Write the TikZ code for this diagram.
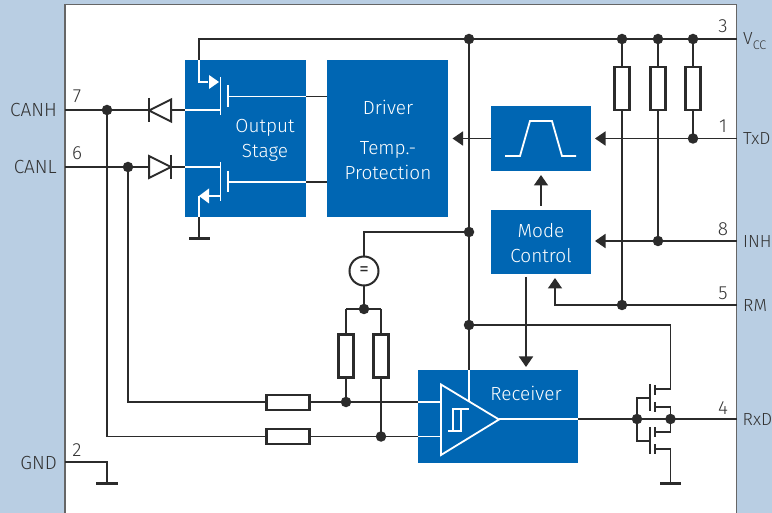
\documentclass[tikz,border=0pt]{standalone}
\usepackage{fontspec}
\setmainfont{Fira Sans Light}[BoldFont={Fira Sans}]
\usetikzlibrary{arrows.meta}
\definecolor{bgblue}{HTML}{B9CEE3}
\definecolor{blockblue}{HTML}{0066B3}
\definecolor{ink}{HTML}{2B2B2B}
\definecolor{txt}{HTML}{333333}
\tikzset{
  x=1pt,y=-1pt,
  block/.style={fill=blockblue,draw=none,inner sep=0,outer sep=0},
  wire/.style={draw=ink,line width=1.7pt},
  wwire/.style={draw=white,line width=1.6pt},
  thick wire/.style={draw=ink,line width=2.2pt},
  res/.style={draw=ink,line width=2.1pt,fill=white,inner sep=0,outer sep=0},
  dot/.style={circle,fill=ink,draw=none,minimum size=10.5pt,inner sep=0,outer sep=0},
  pin/.style={font=\fontsize{19}{19}\selectfont,text=txt,inner sep=0,anchor=base},
  sig/.style={font=\fontsize{19}{19}\selectfont,text=txt,inner sep=0},
  sigr/.style={font=\fontsize{17.5}{17.5}\selectfont,text=txt,inner sep=0,anchor=base west},
  blocktxt/.style={font=\fontsize{19}{19}\selectfont,text=white,inner sep=0,anchor=base},
  arr/.style={wire,-{Triangle[length=10.5pt,width=14pt,fill=ink]}},
}
\begin{document}
\begin{tikzpicture}
\useasboundingbox (0,0) rectangle (772,513);
\clip (0,0) rectangle (772,513);
\fill[bgblue] (0,0) rectangle (772,513);
\fill[white] (65,4.5) rectangle (736.5,513);
\draw[draw=gray!80!black,line width=1.3pt] (65,513) -- (65,4.5) -- (736.5,4.5) -- (736.5,513);

% blocks
\node[block,minimum width=121pt,minimum height=157pt] (output) at (245.5,138.5) {};
\node[block,minimum width=121pt,minimum height=157pt] (driver) at (387.5,138.5) {};
\node[block,minimum width=100pt,minimum height=65pt] (slope) at (541,138.5) {};
\node[block,minimum width=100pt,minimum height=64pt] (mode) at (541,242) {};
\node[block,minimum width=160pt,minimum height=93pt] (receiver) at (498,416.5) {};

% junction points
\coordinate (vccL) at (199,39);
\coordinate (vccR) at (736.5,39);
\coordinate (txdR) at (736.5,138.5);
\coordinate (inhR) at (736.5,241);
\coordinate (rmR) at (736.5,305);
\coordinate (rxdR) at (736.5,419);
\coordinate (hL) at (65,110);
\coordinate (lL) at (65,167);
\coordinate (gL) at (65,462);
\coordinate (upS) at (541,206);
\coordinate (dnS) at (526,277);
\node[dot] (jv0) at (469,39) {};
\node[dot] (jv1) at (622,39) {};
\node[dot] (jv2) at (658,39) {};
\node[dot] (jv3) at (693,39) {};
\node[dot] (jtx) at (693,138.5) {};
\node[dot] (jinh) at (658,241) {};
\node[dot] (jrm) at (622,305) {};
\node[dot] (jbus) at (469,232) {};
\node[dot] (jrec) at (469,325) {};
\node[dot] (jh) at (107,110) {};
\node[dot] (jl) at (128,167) {};
\node[dot] (jtop) at (364,309) {};
\node[dot] (j402) at (346,402) {};
\node[dot] (j436) at (381,436.5) {};
\node[dot] (jg) at (637,419) {};
\node[dot] (jd) at (670.5,419) {};

% black wiring
\draw[wire] (199,60) -- (vccL) -- (vccR);
\draw[wire] (jv0.center) -- (469,370);
\draw[wire] (jv1.center) -- (jrm.center);
\draw[wire] (jv2.center) -- (jinh.center);
\draw[wire] (jv3.center) -- (jtx.center);
\draw[wire] (hL) -- (185,110);
\draw[wire] (lL) -- (185,167);
\draw[wire] (jh.center) -- (107,436.5) -- (418,436.5);
\draw[wire] (jl.center) -- (128,402) -- (418,402);
\draw[wire] (306,96.5) -- (327,96.5);
\draw[wire] (306,182) -- (327,182);
\draw[wire] (199,217) -- (199,238.5);
\draw[thick wire] (189,238.5) -- (210,238.5);
\draw[wire] (gL) -- (107,462) -- (107,483.5);
\draw[thick wire] (96,483.5) -- (117.5,483.5);
\draw[arr] (txdR) -- (595,138.5);
\draw[arr] (slope.west) -- (452.5,138.5);
\draw[arr] (inhR) -- (595,241);
\draw[arr] (rmR) -- (555,305) -- (555,278);
\draw[arr] (upS) -- (541,175);
\draw[arr] (dnS) -- (526,367);
\draw[wire] (jrec.center) -- (670.5,325) -- (670.5,389) -- (655,389);
\draw[wire] (578,419) -- (rxdR);

% equal sign reference and divider
\node[circle,draw=ink,line width=2pt,fill=white,minimum size=29pt,inner sep=0,outer sep=0,font=\bfseries\fontsize{19}{19}\selectfont,text=ink] (eq) at (364,271) {=};
\draw[wire] (eq.north) -- (364,232) -- (jbus.center);
\draw[wire] (eq.south) -- (jtop.center);
\draw[wire] (346,309) -- (381,309);
\draw[wire] (346,309) -- (j402.center);
\draw[wire] (381,309) -- (j436.center);

% resistors
\node[res,minimum width=15pt,minimum height=43pt] (r1) at (622,88.5) {};
\node[res,minimum width=15pt,minimum height=43pt] (r2) at (658,88.5) {};
\node[res,minimum width=15pt,minimum height=43pt] (r3) at (693,88.5) {};
\node[res,minimum width=15pt,minimum height=43pt] (r4) at (346,356) {};
\node[res,minimum width=15pt,minimum height=43pt] (r5) at (381,356) {};
\node[res,minimum width=43pt,minimum height=15pt] (r6) at (288,402.5) {};
\node[res,minimum width=43pt,minimum height=15pt] (r7) at (288,436.5) {};

% diodes
\draw[wire,line width=2pt,fill=white,line join=miter] (171,99.5) -- (171,121.5) -- (149,110.5) -- cycle;
\draw[thick wire] (149,98) -- (149,122);
\draw[wire,line width=2pt,fill=white,line join=miter] (149,156) -- (149,178) -- (171,167) -- cycle;
\draw[thick wire] (171,155) -- (171,179);

% output stage internals
\draw[wwire] (199,60) -- (199,82) -- (208,82);
\fill[white] (219,82) -- (209,75) -- (209,89) -- cycle;
\draw[wwire] (220.5,77) -- (220.5,115);
\draw[wwire] (228,85) -- (228,107);
\draw[wwire] (228,96.5) -- (306,96.5);
\draw[wwire] (185,110) -- (220.5,110);
\draw[wwire] (185,167) -- (220.5,167);
\draw[wwire] (220.5,162) -- (220.5,201);
\draw[wwire] (228,171) -- (228,192);
\draw[wwire] (228,182) -- (306,182);
\draw[wwire] (220.5,196) -- (208,196);
\fill[white] (199,196) -- (209,188.5) -- (209,203.5) -- cycle;
\draw[wwire] (199,196) -- (199,217);

% slope symbol
\draw[wwire,line width=1.8pt] (505,156) -- (520,156) -- (530,121) -- (552,121) -- (562,156) -- (576,156);

% receiver internals
\draw[wwire] (469,370) -- (469,402);
\draw[wwire] (418,402) -- (441,402);
\draw[wwire] (418,436.5) -- (441,436.5);
\draw[wwire,line width=1.8pt,line join=miter] (441,384.5) -- (441,455) -- (499,419.5) -- cycle;
\draw[wwire] (499,419) -- (578,419);
\draw[wwire,line width=1.8pt] (448,431) -- (461,431) -- (461,409) -- (469,409);
\draw[wwire,line width=1.8pt] (461,409) -- (453,409) -- (453,431);

% output pair
\draw[wire] (jg.center) -- (637,398) -- (650,398);
\draw[wire] (jg.center) -- (637,441) -- (650,441);
\draw[wire] (650,384) -- (650,411);
\draw[wire] (650,427) -- (650,454);
\draw[wire] (655,385) -- (655,395);
\draw[wire] (655,402) -- (655,412);
\draw[wire] (655,427) -- (655,437);
\draw[wire] (655,444) -- (655,454);
\draw[wire] (655,407) -- (670.5,407) -- (jd.center);
\draw[wire] (655,432) -- (670.5,432) -- (jd.center);
\draw[wire] (655,449) -- (670.5,449) -- (670.5,483.5);
\draw[thick wire] (660,483.5) -- (681,483.5);

% block labels
\node[blocktxt] (t1) at (265,133) {Output};
\node[blocktxt] (t2) at (265,158) {Stage};
\node[blocktxt] (t3) at (388,114.5) {Driver};
\node[blocktxt] (t4) at (388,155) {Temp.-};
\node[blocktxt] (t5) at (388,180) {Protection};
\node[blocktxt] (t6) at (541,238) {Mode};
\node[blocktxt] (t7) at (541,263) {Control};
\node[blocktxt] (t8) at (526,400) {Receiver};

% pin names
\node[sig,anchor=base east] (canh) at (57,117) {CANH};
\node[sig,anchor=base east] (canl) at (57,174) {CANL};
\node[sig,anchor=base east] (gnd) at (57,469) {GND};
\node[sigr] (vcc) at (743,45) {V\raisebox{-5pt}{\fontsize{12.5}{12.5}\selectfont CC}};
\node[sigr] (txd) at (743,144.5) {TxD};
\node[sigr] (inh) at (743,248) {INH};
\node[sigr] (rm) at (743,312) {RM};
\node[sigr] (rxd) at (742.5,425.5) {RxD};

% pin numbers
\node[pin] (p7) at (77,103) {7};
\node[pin] (p6) at (77,160) {6};
\node[pin] (p2) at (77,456) {2};
\node[pin] (p3) at (723,33) {3};
\node[pin] (p1) at (723,133) {1};
\node[pin] (p8) at (723,236) {8};
\node[pin] (p5) at (723,300) {5};
\node[pin] (p4) at (723,414) {4};
\end{tikzpicture}
\end{document}
